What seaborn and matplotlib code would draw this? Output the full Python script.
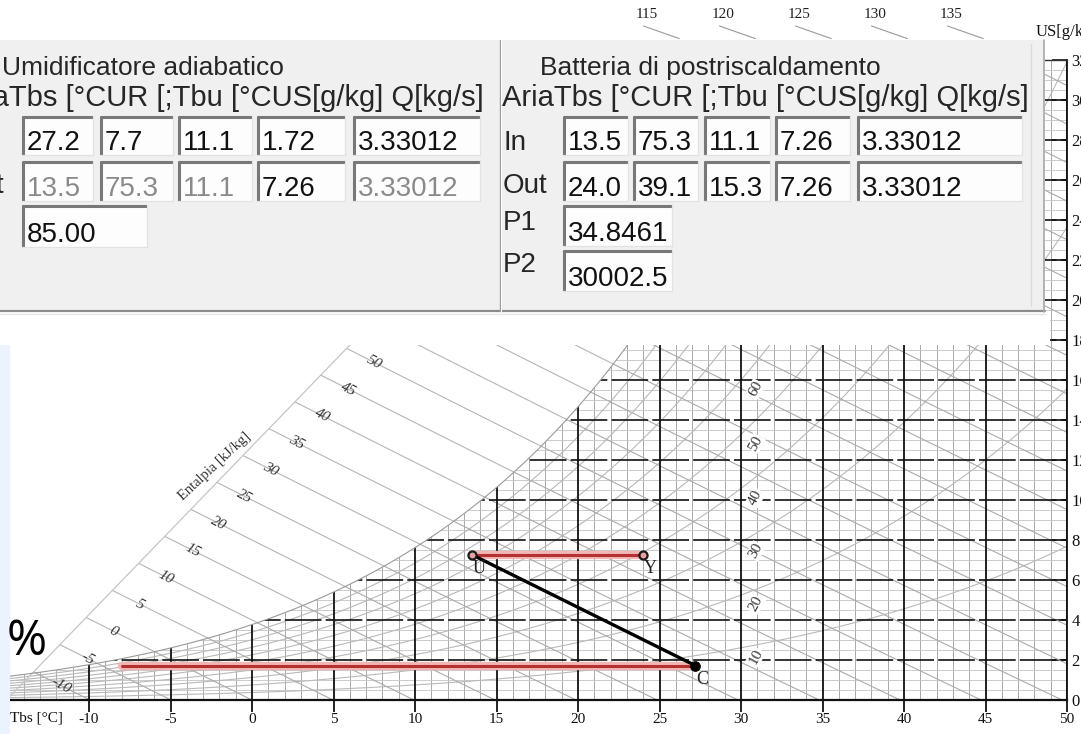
import numpy as np
import pandas as pd
import matplotlib
matplotlib.use("Agg")
import matplotlib.pyplot as plt
from matplotlib.patches import Rectangle, Polygon
import seaborn as sns

state_names = ["C", "U", "Y"]
state_tbs = [27.2, 13.5, 24.0]
state_us = [1.72, 7.26, 7.26]

# dew point line of C (red), humidification C->U (black), post heating U->Y (red)
dew_tbs = [-8.0, 27.2]
dew_us = [1.72, 1.72]
hum_tbs = [27.2, 13.5]
hum_us = [1.72, 7.26]
heat_tbs = [13.5, 24.0]
heat_us = [7.26, 7.26]

x_ticks = list(range(-10, 55, 5))
y_ticks = list(range(0, 34, 2))
h_lines = list(range(-10, 140, 5))
h_left = list(range(-10, 55, 5))
h_top = [115, 120, 125, 130, 135]
rh_lines = [10, 20, 30, 40, 50, 60, 70, 80, 90]
rh_labels = [10, 20, 30, 40, 50, 60]

# dialog contents
umid_title = "Umidificatore adiabatico"
batt_title = "Batteria di postriscaldamento"
col_header = "AriaTbs [°CUR [;Tbu [°CUS[g/kg] Q[kg/s]"
umid_in = ["27.2", "7.7", "11.1", "1.72", "3.33012"]
umid_out = ["13.5", "75.3", "11.1", "7.26", "3.33012"]
umid_out_grey = [True, True, True, False, True]
umid_eff = "85.00"
batt_in = ["13.5", "75.3", "11.1", "7.26", "3.33012"]
batt_out = ["24.0", "39.1", "15.3", "7.26", "3.33012"]
batt_p1 = "34.8461"
batt_p2 = "30002.5"

# ---- psychrometrics used to draw the chart background ----
P_ATM = 101325.0


def psat(t):
    return 610.94 * np.exp(17.625 * t / (t + 243.04))


def w_rh(t, rh):
    pv = rh / 100.0 * psat(t)
    return 622.0 * pv / (P_ATM - pv)


def w_sat(t):
    return w_rh(t, 100.0)


def w_of_h(h, t):
    return (h - 1.006 * t) / (2.501 + 0.00186 * t)


def scale_w(t):
    # diagonal enthalpy scale on the upper left
    return 0.4 + 0.842 * (t + 14.6)


sns.set_theme(style="white")
plt.rcParams["font.family"] = ["Liberation Serif", "DejaVu Serif"]

fig = plt.figure(figsize=(10.81, 7.34), dpi=100)
ax = fig.add_axes([10 / 1081, 34 / 734, 1057 / 1081, 640 / 734])
ax.set_xlim(-14.85, 50)
ax.set_ylim(0, 32)
ax.set_facecolor("white")

tg = np.linspace(-20, 45, 6501)
ws = w_sat(tg)
h_sat_grid = 1.006 * tg + ws / 1000 * (2501 + 1.86 * tg)
h_scale_grid = 1.006 * tg + scale_w(tg) / 1000 * (2501 + 1.86 * tg)

# region below the saturation curve
tc = np.linspace(-16, 36, 400)
verts = [(-16, -1)] + list(zip(tc, w_sat(tc))) + [(60, w_sat(36)), (60, -1)]
clip = Polygon(verts, closed=True, transform=ax.transData,
               facecolor="none", edgecolor="none")
ax.add_patch(clip)


def clipped(lines):
    for ln in lines:
        ln.set_clip_path(clip)


# minor grid
for t in np.arange(-15, 51, 1.0):
    if t % 5:
        clipped(ax.plot([t, t], [0, 40], color="#a9a9a9", lw=0.7, zorder=1))
for w in np.arange(0, 40, 0.5):
    if w % 2:
        clipped(ax.plot([-16, 60], [w, w], color="#c4c4c4", lw=0.6, zorder=1))

# relative humidity curves
for rh in rh_lines:
    tt = np.linspace(-16, 50, 300)
    clipped(ax.plot(tt, w_rh(tt, rh), color="#b9b9b9", lw=0.8, zorder=1))

# enthalpy lines
for h in h_lines:
    t_sat = np.interp(h, h_sat_grid, tg)
    t_int = np.interp(h, h_scale_grid, tg)
    tt = np.linspace(t_sat, h / 1.006, 60)
    clipped(ax.plot(tt, w_of_h(h, tt), color="#ababab", lw=0.8, zorder=1))
    tt = np.linspace(t_int, t_sat, 40)
    ax.plot(tt, w_of_h(h, tt), color="#b5b5b5", lw=0.8, zorder=1)

# major grid
for t in x_ticks:
    clipped(ax.plot([t, t], [0, 40], color="#111111", lw=1.3, zorder=2))
for w in y_ticks[1:]:
    clipped(ax.plot([-16, 60], [w, w], color="#111111", lw=1.2,
                    dashes=(22, 2.5), zorder=2))

# saturation curve and enthalpy scale line
ax.plot(tc, w_sat(tc), color="#9a9a9a", lw=0.8, zorder=2)
ts = np.linspace(-16, 30, 50)
ax.plot(ts, scale_w(ts), color="#c6c6c6", lw=0.9, zorder=1)

# enthalpy labels on the diagonal scale
for h in h_left:
    t_lab = np.interp(h, h_scale_grid, tg) + 1.7
    ax.text(t_lab, w_of_h(h, t_lab), str(h), rotation=-28, fontsize=11,
            style="italic", color="#333333", ha="center", va="center", zorder=3)
ax.text(-2.3, 11.7, "Entalpia [kJ/kg]", rotation=43, fontsize=10.5,
        color="#333333", ha="center", va="center", zorder=3)

# enthalpy labels on top
w_top = 35.6
for h in h_top:
    t_lab = (h - 2.501 * w_top) / (1.006 + 0.00186 * w_top)
    ax.text(t_lab, 34.3, str(h), fontsize=11, color="#222222",
            ha="center", va="center", clip_on=False)
    ax.plot([t_lab - 0.2, t_lab + 2.0], [33.7, 33.07], color="#9a9a9a",
            lw=0.8, clip_on=False)

# relative humidity labels along the 30 °C line
for rh in rh_labels:
    ax.text(30.9, w_rh(30, rh) - 0.45, str(rh), rotation=62, fontsize=11,
            color="#333333", ha="center", va="center", zorder=4,
            bbox=dict(boxstyle="square,pad=0.05", fc="white", ec="none"))

# ---- transformations ----
for tt, ww in [(dew_tbs, dew_us), (heat_tbs, heat_us)]:
    sns.lineplot(x=tt, y=ww, ax=ax, color="#f3b4b4", lw=6, sort=False,
                 estimator=None, zorder=5)
    sns.lineplot(x=tt, y=ww, ax=ax, color="#b53030", lw=2.2, sort=False,
                 estimator=None, zorder=6)
sns.lineplot(x=hum_tbs, y=hum_us, ax=ax, color="black", lw=2.4, sort=False,
             estimator=None, zorder=7)

pts = pd.DataFrame({"name": state_names, "tbs": state_tbs, "us": state_us})
sns.scatterplot(data=pts[pts["name"] != "C"], x="tbs", y="us", ax=ax, s=34,
                color="#e7a2a2", edgecolor="#1a1a1a", linewidth=1.6, zorder=8)
sns.scatterplot(data=pts[pts["name"] == "C"], x="tbs", y="us", ax=ax, s=50,
                color="black", edgecolor="black", zorder=8)
for _, r in pts.iterrows():
    ax.annotate(r["name"], (r["tbs"], r["us"]), xytext=(5, -10),
                textcoords="offset points", fontsize=13, color="#222222",
                ha="center", va="center", zorder=9)

# axes / ticks
ax.set_xlabel("")
ax.set_ylabel("")
ax.set_xticks(x_ticks)
ax.set_xticklabels([str(v) for v in x_ticks])
ax.set_yticks(y_ticks)
ax.set_yticklabels([str(v) for v in y_ticks])
ax.yaxis.tick_right()
ax.tick_params(axis="x", direction="out", length=8.6, width=1.3, pad=1,
               labelsize=11, colors="#111111", bottom=True)
ax.tick_params(axis="y", direction="in", length=11, width=1.2, pad=3,
               labelsize=12, colors="#111111", right=True, left=False)
ax.spines["left"].set_visible(False)
ax.spines["bottom"].set_color("#111111")
ax.spines["bottom"].set_linewidth(1.6)
ax.spines["right"].set_color("#111111")
ax.spines["right"].set_linewidth(1.3)
ax.spines["top"].set_color("#333333")
ax.spines["top"].set_linewidth(1.0)

# ---- overlay in pixel coordinates: dialog panel and window bits ----
ov = fig.add_axes([0, 0, 1, 1], zorder=10)
ov.set_xlim(0, 1081)
ov.set_ylim(734, 0)
ov.axis("off")
ov.patch.set_alpha(0)

ov.add_patch(Rectangle((0, 312), 1050, 33, fc="white", ec="none", zorder=1))
ov.add_patch(Rectangle((0, 345), 10, 389, fc="#edf3fc", ec="none", zorder=1))
ov.add_patch(Rectangle((0, 40), 1045, 272, fc="#f0f0f0", ec="none", zorder=2))
ov.plot([0, 1045], [311, 311], color="#8c8c8c", lw=1.6, zorder=3)
ov.plot([0, 1045], [313.5, 313.5], color="#e4e4e4", lw=1.0, zorder=3)
ov.plot([1044, 1044], [40, 312], color="#a8a8a8", lw=1.2, zorder=3)
ov.plot([1031, 1031], [44, 306], color="#dcdcdc", lw=1.0, zorder=3)
ov.plot([499.5, 499.5], [40, 311], color="#9a9a9a", lw=1.0, zorder=3)
ov.plot([501, 501], [40, 311], color="#ffffff", lw=0.8, zorder=3)

ui = dict(family=["Liberation Sans", "DejaVu Sans"], zorder=6)


def box(x0, y0, x1, y1, text, grey=False):
    ov.add_patch(Rectangle((x0, y0), x1 - x0, y1 - y0, fc="#fdfdfd",
                           ec="none", zorder=4))
    ov.plot([x0, x1], [y0 + 1.2, y0 + 1.2], color="#787878", lw=2.2,
            solid_capstyle="butt", zorder=5)
    ov.plot([x0 + 1.2, x0 + 1.2], [y0, y1], color="#787878", lw=2.2,
            solid_capstyle="butt", zorder=5)
    ov.plot([x0, x1], [y1, y1], color="#e2e2e2", lw=0.9, zorder=5)
    ov.plot([x1, x1], [y0, y1], color="#e2e2e2", lw=0.9, zorder=5)
    ov.text(x0 + 5, y1 - 5, text, color="#8a8a8a" if grey else "#111111",
            va="baseline", ha="left", fontsize=20, **ui)


left_cols = [(22, 93), (100, 173), (178, 252), (257, 345), (353, 480)]
right_cols = [(563, 628), (633, 698), (704, 770), (775, 850), (857, 1022)]
row1 = (116, 155)
row2 = (161, 201)

ov.text(2, 75, umid_title, va="baseline", fontsize=19, **ui)
ov.text(484, 106, col_header, va="baseline", ha="right", fontsize=21, **ui)
ov.text(-40, 150, "In", va="baseline", fontsize=20, **ui)
ov.text(-40, 193, "Out", va="baseline", fontsize=20, **ui)
for (x0, x1), v in zip(left_cols, umid_in):
    box(x0, row1[0], x1, row1[1], v)
for (x0, x1), v, g in zip(left_cols, umid_out, umid_out_grey):
    box(x0, row2[0], x1, row2[1], v, grey=g)
box(22, 205, 147, 247, umid_eff)

ov.text(540, 75, batt_title, va="baseline", fontsize=19, **ui)
ov.text(502, 106, col_header, va="baseline", fontsize=21, **ui)
ov.text(503, 150, "In", va="baseline", fontsize=20, **ui)
ov.text(503, 193, "Out", va="baseline", fontsize=20, **ui)
for (x0, x1), v in zip(right_cols, batt_in):
    box(x0, row1[0], x1, row1[1], v)
for (x0, x1), v in zip(right_cols, batt_out):
    box(x0, row2[0], x1, row2[1], v)
ov.text(503, 230, "P1", va="baseline", fontsize=20, **ui)
box(563, 205, 672, 246, batt_p1)
ov.text(503, 272, "P2", va="baseline", fontsize=20, **ui)
box(563, 250, 672, 291, batt_p2)

# labels outside the grid
ov.text(10, 718, "Tbs [°C]", fontsize=11, va="center", ha="left",
        color="#111111", zorder=6)
ov.text(1036, 32, "US[g/kg]", fontsize=12, va="center", ha="left",
        color="#111111", zorder=6)
ov.text(7, 642, "%", fontsize=35, va="center", ha="left", color="black",
        family=["Open Sans", "DejaVu Sans"], zorder=6)

fig.savefig("out.png", dpi=100)
